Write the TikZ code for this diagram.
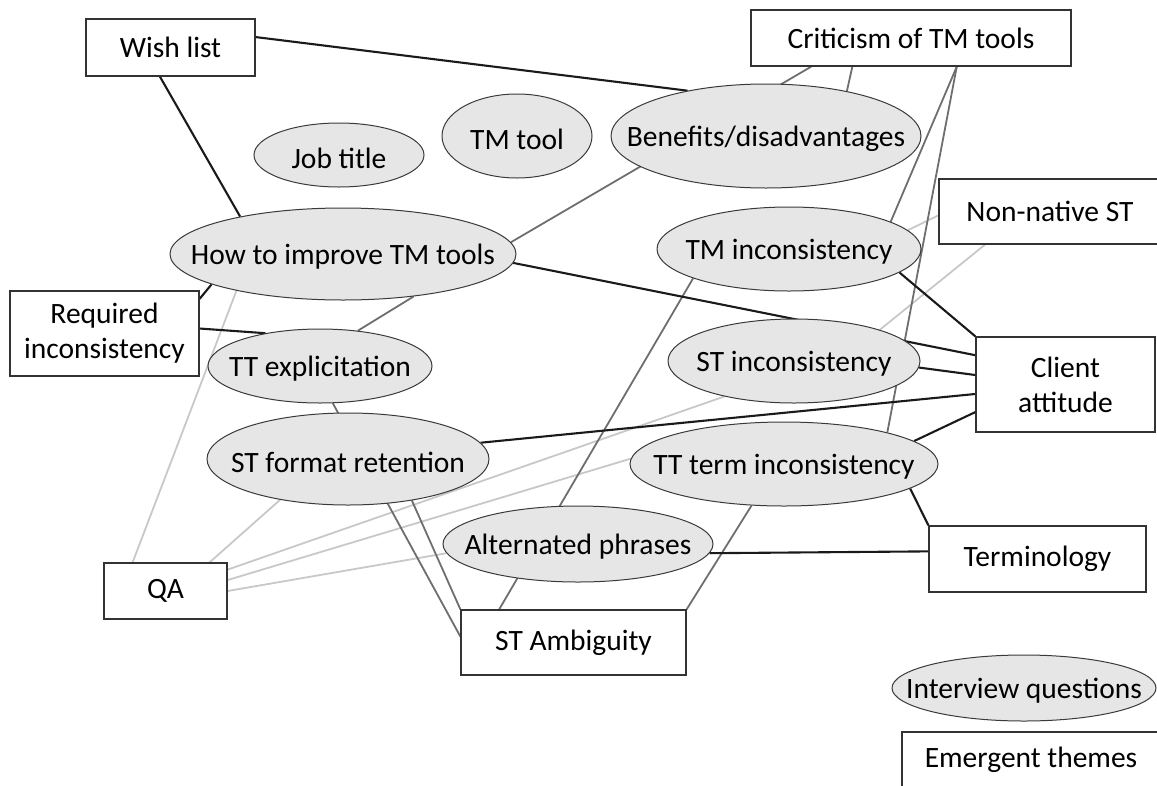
\documentclass[tikz,border=0pt]{standalone}
\usepackage{fontspec}
\setmainfont{Carlito}
\usetikzlibrary{shapes.geometric}
\pgfdeclarelayer{bg}
\pgfsetlayers{bg,main}
\definecolor{boxc}{HTML}{333333}
\definecolor{ellc}{HTML}{3A3A3A}
\definecolor{ellfill}{HTML}{E6E6E6}
\definecolor{blkc}{HTML}{1A1A1A}
\definecolor{dgrc}{HTML}{6E6E6E}
\definecolor{lgrc}{HTML}{C8C8C8}
\newcommand\dfont{\fontsize{29.5}{35}\selectfont}
\newcommand\etext[1]{\raisebox{-3pt}[\height][\depth]{\makebox[0pt]{#1}}}
\begin{document}
\begin{tikzpicture}[x=1pt,y=-1pt,
  box/.style={draw=boxc, line width=1.2pt, fill=white, rectangle, inner sep=0pt, align=center, font=\dfont},
  ell/.style={draw=ellc, line width=1pt, fill=ellfill, ellipse, inner sep=0pt, font=\dfont},
  blk/.style={draw=blkc, line width=2.1pt},
  dgr/.style={draw=dgrc, line width=1.8pt},
  lgr/.style={draw=lgrc, line width=1.8pt}]
\useasboundingbox (0,0) rectangle (1157,785);
\clip (0,0) rectangle (1157,785);

% boxes
\node[box, minimum width=169pt, minimum height=57pt] (wish) at (170.5,47.5) {Wish list};
\node[box, minimum width=320pt, minimum height=56pt] (crit) at (911,38) {Criticism of TM tools};
\node[box, minimum width=222pt, minimum height=65pt] (nonnat) at (1050,211.5) {Non-native ST};
\node[box, minimum width=179pt, minimum height=95pt] (client) at (1065.5,384.5) {Client\\attitude};
\node[box, minimum width=189pt, minimum height=85pt] (req) at (104.5,333.5) {Required\\inconsistency};
\node[box, minimum width=123pt, minimum height=56pt] (qa) at (165.5,591) {QA};
\node[box, minimum width=225pt, minimum height=65pt] (stamb) at (573.5,642.5) {ST Ambiguity};
\node[box, minimum width=217pt, minimum height=66pt] (term) at (1037.5,559) {Terminology};
\node[box, minimum width=258pt, minimum height=56pt] (emerg) at (1031,760) {Emergent themes};

% ellipses
\node[ell, minimum width=170pt, minimum height=64pt] (job) at (339,155) {\etext{Job title}};
\node[ell, minimum width=150pt, minimum height=84pt] (tmtool) at (517,136) {\etext{TM tool}};
\node[ell, minimum width=310pt, minimum height=104pt] (benefit) at (766,136) {\etext{Benefits/disadvantages}};
\node[ell, minimum width=346pt, minimum height=92pt] (how) at (343,254) {\etext{How to improve TM tools}};
\node[ell, minimum width=224pt, minimum height=74pt] (ttexp) at (320,366) {\etext{TT explicitation}};
\node[ell, minimum width=264pt, minimum height=84pt] (tminc) at (789,249) {\etext{TM inconsistency}};
\node[ell, minimum width=252pt, minimum height=84pt] (stinc) at (794,361) {\etext{ST inconsistency}};
\node[ell, minimum width=282pt, minimum height=92pt] (stfmt) at (348,459) {\etext{ST format retention}};
\node[ell, minimum width=270pt, minimum height=76pt] (alt) at (578,544) {\etext{Alternated phrases}};
\node[ell, minimum width=308pt, minimum height=84pt] (ttterm) at (784,464) {\etext{TT term inconsistency}};
\node[ell, minimum width=264pt, minimum height=66pt] (interv) at (1024,688) {\etext{Interview questions}};

\begin{pgfonlayer}{bg}
% light gray
\draw[lgr] (qa.139) -- (how.199);
\draw[lgr] (qa.33) -- (stfmt.211);
\draw[lgr] (qa.19) -- (stinc.207);
\draw[lgr] (qa.10) -- (ttterm.178.5);
\draw[lgr] (qa.0) -- (alt.184);
\draw[lgr] (nonnat.207) -- (stinc.20);
\draw[lgr] (nonnat.182) -- (tminc.9);
% dark gray
\draw[dgr] (how.4) -- (crit.196);
\draw[dgr] (crit.206) -- (benefit.29);
\draw[dgr] (crit.328) -- (tminc.15);
\draw[dgr] (crit.328) -- (ttterm.17.6);
\draw[dgr] (ttexp.43) -- (how.329);
\draw[dgr] (ttexp.289) -- (stamb.177);
\draw[dgr] (stfmt.327) -- (stamb.north west);
\draw[dgr] (tminc.197) -- (stamb.156);
\draw[dgr] (ttterm.232.5) -- (stamb.north east);
% black
\draw[blk] (wish.7) -- (benefit.150);
\draw[blk] (wish.250) -- (how.160);
\draw[blk] (req.20.6) -- (how.193);
\draw[blk] (req.3.3) -- (ttexp.149);
\draw[blk] (how.357.7) -- (client.162.7);
\draw[blk] (tminc.348.6) -- (client.north west);
\draw[blk] (stinc.357.7) -- (client.174);
\draw[blk] (ttterm.10.6) -- (client.197.7);
\draw[blk] (stfmt.7.8) -- (client.186.8);
\draw[blk] (ttterm.349.3) -- (term.north west);
\draw[blk] (alt.356.5) -- (term.176.3);
\end{pgfonlayer}
\end{tikzpicture}
\end{document}
